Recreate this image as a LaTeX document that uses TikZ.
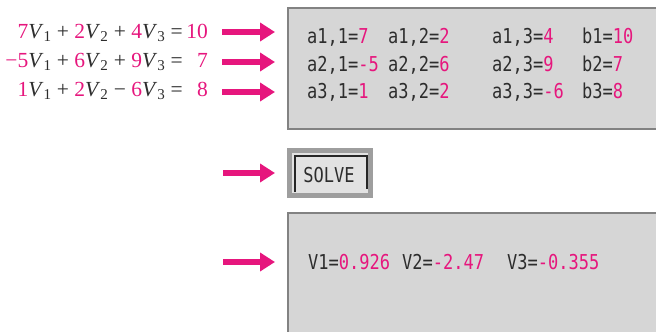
\documentclass[tikz,border=0pt]{standalone}
\usepackage{fontspec}
\setmainfont{Liberation Serif}
\newfontfamily\panelfont[FakeStretch=0.83]{DejaVu Sans Mono}
\usepackage{xcolor}
\usetikzlibrary{arrows.meta, positioning, calc}
\definecolor{solvepink}{RGB}{230,22,125}
\definecolor{panelgray}{RGB}{214,214,214}
\definecolor{rimgray}{RGB}{130,130,130}
\definecolor{btngray}{RGB}{158,158,158}
\definecolor{btnface}{RGB}{226,226,226}
\definecolor{inkgray}{RGB}{45,45,45}
\newcommand{\pk}[1]{\textcolor{solvepink}{#1}}
\newcommand{\Vs}[1]{\textit{V}\textsubscript{#1}}

\begin{document}
\begin{tikzpicture}[x=1pt, y=-1pt,
    eqn/.style={inner sep=0pt, anchor=base east, font=\fontsize{21.5}{24}\selectfont, text=inkgray},
    cell/.style={inner sep=0pt, anchor=base west, font=\fontsize{20.5}{24}\panelfont, text=inkgray},
    panel/.style={draw=rimgray, line width=2pt, fill=panelgray, anchor=north west, inner sep=0pt},
    pinkarrow/.style={draw=solvepink, line width=6.5pt, shorten >=12pt, -{Triangle[length=15pt, width=18pt]}}]
    \useasboundingbox (0,0) rectangle (656,332);

    % equations
    \node[eqn] (eq1) at (183,38) {\pk{7}\Vs{1} + \pk{2}\Vs{2} + \pk{4}\Vs{3} =};
    \node[eqn] (rhs1) at (208,38) {\pk{10}};
    \node[eqn] (eq2) at (183,67) {\pk{−5}\Vs{1} + \pk{6}\Vs{2} + \pk{9}\Vs{3} =};
    \node[eqn] (rhs2) at (208,67) {\pk{7}};
    \node[eqn] (eq3) at (183,96) {\pk{1}\Vs{1} + \pk{2}\Vs{2} − \pk{6}\Vs{3} =};
    \node[eqn] (rhs3) at (208,96) {\pk{8}};

    % input panel
    \node[panel, minimum width=380pt, minimum height=121pt] (coefbox) at (287,7) {};
    \node[cell] (a11) at (307,43) {a1,1=\pk{7}};
    \node[cell] (a12) at (388,43) {a1,2=\pk{2}};
    \node[cell] (a13) at (492,43) {a1,3=\pk{4}};
    \node[cell] (b1)  at (582,43) {b1=\pk{10}};
    \node[cell] (a21) at (307,71) {a2,1=\pk{-5}};
    \node[cell] (a22) at (388,71) {a2,2=\pk{6}};
    \node[cell] (a23) at (492,71) {a2,3=\pk{9}};
    \node[cell] (b2)  at (582,71) {b2=\pk{7}};
    \node[cell] (a31) at (307,98) {a3,1=\pk{1}};
    \node[cell] (a32) at (388,98) {a3,2=\pk{2}};
    \node[cell] (a33) at (492,98) {a3,3=\pk{-6}};
    \node[cell] (b3)  at (582,98) {b3=\pk{8}};

    % solve button
    \node[fill=btngray, anchor=north west, inner sep=0pt, minimum width=86pt, minimum height=50pt] (solvebtn) at (287,148) {};
    \node[fill=btnface, inner sep=0pt, minimum width=76pt, minimum height=40pt] (solveface) at (solvebtn.center) {};
    \draw[line width=1.5pt, black!85] (295,192) -- (295,156) -- (367,156) -- (367,189);
    \node[cell, anchor=base] (solvetxt) at (329,182) {SOLVE};

    % result panel
    \node[panel, minimum width=380pt, minimum height=130pt] (resbox) at (287,212) {};
    \node[cell] (v1) at (308,269) {V1=\pk{0.926}};
    \node[cell] (v2) at (402,269) {V2=\pk{-2.47}};
    \node[cell] (v3) at (507,269) {V3=\pk{-0.355}};

    % arrows
    \coordinate (in1) at (222,32);
    \coordinate (in2) at (222,62);
    \coordinate (in3) at (222,92);
    \coordinate (insolve) at (223,173);
    \coordinate (inres) at (223,262);
    \draw[pinkarrow] (in1) -- (coefbox.west |- in1);
    \draw[pinkarrow] (in2) -- (coefbox.west |- in2);
    \draw[pinkarrow] (in3) -- (coefbox.west |- in3);
    \draw[pinkarrow] (insolve) -- (solvebtn.west |- insolve);
    \draw[pinkarrow] (inres) -- (resbox.west |- inres);
\end{tikzpicture}
\end{document}
